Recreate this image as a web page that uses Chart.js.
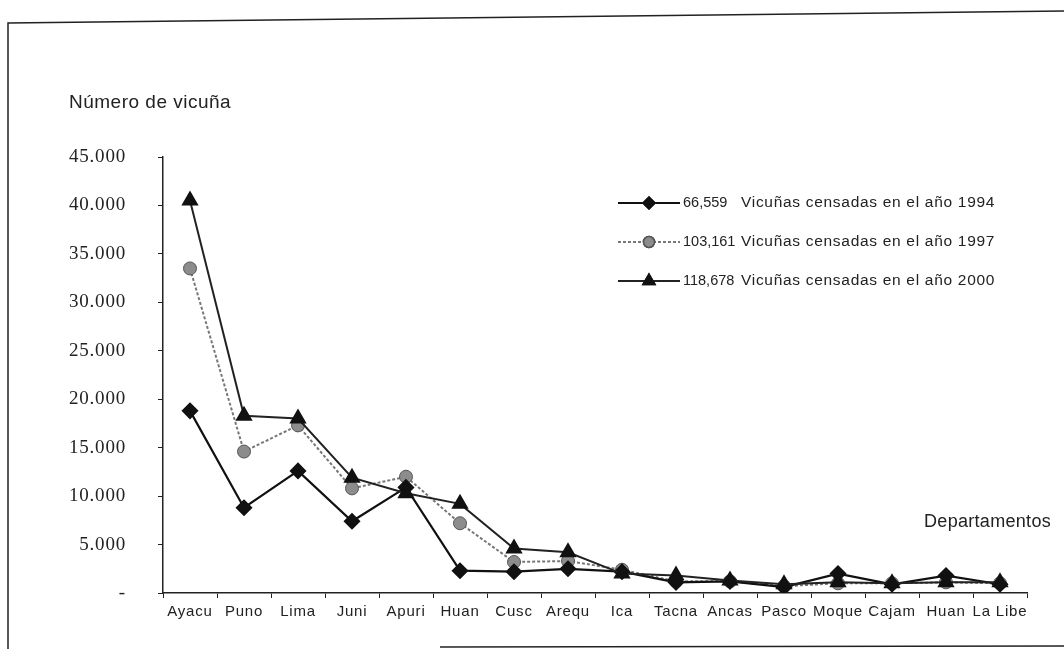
<!DOCTYPE html>
<html>
<head>
<meta charset="utf-8">
<title>Número de vicuña</title>
<script src="https://cdn.jsdelivr.net/npm/chart.js@4/dist/chart.umd.min.js"></script>
<style>
  html, body { margin: 0; padding: 0; background: #fff; }
  #wrap { width: 1064px; height: 649px; position: relative; }
</style>
</head>
<body>
<div id="wrap"><canvas id="vicunaChart" width="1064" height="649"></canvas></div>
<script>
// departamentos (abreviados como en el original)
const departamentos = ["Ayacu", "Puno", "Lima", "Juni", "Apuri", "Huan", "Cusc", "Arequ",
  "Ica", "Tacna", "Ancas", "Pasco", "Moque", "Cajam", "Huan", "La Libe"];

// valores
const censo1994 = [18800, 8800, 12600, 7400, 10900, 2300, 2200, 2500, 2200, 1100, 1200, 600, 2000, 900, 1800, 900];
const censo1997 = [33500, 14600, 17300, 10800, 12000, 7200, 3200, 3300, 2400, 1200, 1200, 700, 1000, 1000, 1100, 1000];
const censo2000 = [40500, 18300, 18000, 11900, 10300, 9200, 4600, 4200, 2000, 1800, 1300, 900, 1100, 1000, 1100, 1100];

const totales = ["66,559", "103,161", "118,678"];
const leyendas = ["Vicuñas censadas en el año 1994", "Vicuñas censadas en el año 1997", "Vicuñas censadas en el año 2000"];

const yTicks = [0, 5000, 10000, 15000, 20000, 25000, 30000, 35000, 40000, 45000];

function formatMiles(v) {
  if (v === 0) return "-";
  return String(v).replace(/\B(?=(\d{3})+(?!\d))/g, ".");
}

// el texto del escaneo es algo más ancho que la fuente normal
const spacingPlugin = {
  id: "spacing",
  beforeLayout(chart) { chart.ctx.letterSpacing = "0.8px"; },
  beforeDraw(chart) { chart.ctx.letterSpacing = "0.8px"; }
};

// textos, leyenda y marco del escaneo
const extrasPlugin = {
  id: "extras",
  afterDraw(chart) {
    const ctx = chart.ctx;
    ctx.save();

    // marco
    ctx.strokeStyle = "#222";
    ctx.lineWidth = 1.5;
    ctx.letterSpacing = "0px";
    ctx.beginPath();
    ctx.moveTo(8, 649);
    ctx.lineTo(8, 23);
    ctx.lineTo(1064, 11);
    ctx.stroke();
    ctx.beginPath();
    ctx.moveTo(440, 647);
    ctx.lineTo(1064, 646);
    ctx.stroke();

    ctx.fillStyle = "#222";
    ctx.textBaseline = "middle";
    ctx.textAlign = "left";
    ctx.letterSpacing = "0.5px";
    ctx.font = "19px 'Liberation Sans', Arial, sans-serif";
    ctx.fillText("Número de vicuña", 69, 103);
    ctx.textAlign = "right";
    ctx.letterSpacing = "0.3px";
    ctx.font = "18px 'Liberation Sans', Arial, sans-serif";
    ctx.fillText("Departamentos", 1051, 522);

    // leyenda
    const rows = [203, 242, 281];
    chart.data.datasets.forEach((ds, i) => {
      const y = rows[i];
      ctx.save();
      ctx.strokeStyle = ds.borderColor;
      ctx.lineWidth = ds.borderWidth;
      ctx.setLineDash(ds.borderDash || []);
      ctx.beginPath();
      ctx.moveTo(618, y);
      ctx.lineTo(680, y);
      ctx.stroke();
      ctx.restore();
      Chart.helpers.drawPoint(ctx, {
        pointStyle: ds.pointStyle,
        radius: ds.pointRadius - 1,
        rotation: 0,
        borderWidth: 1
      }, 649, y);
      ctx.save();
      ctx.fillStyle = ds.pointBackgroundColor;
      ctx.strokeStyle = ds.pointBorderColor;
      ctx.fill();
      ctx.stroke();
      ctx.restore();
      ctx.fillStyle = "#222";
      ctx.textAlign = "left";
      ctx.letterSpacing = "0px";
      ctx.font = "14.5px 'Liberation Sans', Arial, sans-serif";
      ctx.fillText(totales[i], 683, y);
      ctx.letterSpacing = "0.7px";
      ctx.font = "15.5px 'Liberation Sans', Arial, sans-serif";
      ctx.fillText(leyendas[i], 741, y);
    });

    ctx.restore();
  }
};

const ctx = document.getElementById("vicunaChart").getContext("2d");

const vicunaChart = new Chart(ctx, {
  type: "line",
  data: {
    labels: departamentos,
    datasets: [
      {
        label: leyendas[0],
        data: censo1994,
        borderColor: "#111",
        borderWidth: 2.2,
        pointStyle: "rectRot",
        pointRadius: 7,
        pointBackgroundColor: "#111",
        pointBorderColor: "#111",
        order: 1
      },
      {
        label: leyendas[1],
        data: censo1997,
        borderColor: "#777",
        borderWidth: 2,
        borderDash: [3, 2],
        pointStyle: "circle",
        pointRadius: 6.5,
        pointBackgroundColor: "#8c8c8c",
        pointBorderColor: "#555",
        pointBorderWidth: 1,
        order: 2
      },
      {
        label: leyendas[2],
        data: censo2000,
        borderColor: "#222",
        borderWidth: 2,
        pointStyle: "triangle",
        pointRadius: 8,
        pointBackgroundColor: "#111",
        pointBorderColor: "#111",
        order: 0
      }
    ]
  },
  options: {
    responsive: false,
    animation: false,
    devicePixelRatio: 1,
    layout: { padding: { top: 157, left: 0, right: 37, bottom: 0 } },
    plugins: {
      legend: { display: false },
      tooltip: { enabled: false },
      title: { display: false }
    },
    elements: { line: { tension: 0 } },
    scales: {
      x: {
        type: "category",
        offset: true,
        border: { display: true, color: "#222", width: 1.5 },
        grid: {
          offset: true,
          drawOnChartArea: false,
          drawTicks: true,
          tickLength: 5,
          color: "#222"
        },
        ticks: {
          color: "#222",
          padding: 5,
          maxRotation: 0,
          autoSkip: false,
          font: { family: "'Liberation Sans', Arial, sans-serif", size: 15 }
        },
        afterFit(scale) { scale.height = 56; }
      },
      y: {
        min: 0,
        max: 45000,
        afterBuildTicks(scale) { scale.ticks = yTicks.map(v => ({ value: v })); },
        border: { display: true, color: "#222", width: 1.5 },
        grid: {
          drawOnChartArea: false,
          drawTicks: true,
          tickLength: 5,
          color: "#222"
        },
        ticks: {
          color: "#222",
          padding: 32,
          callback: (v) => formatMiles(v),
          font: { family: "'Liberation Serif', 'Times New Roman', serif", size: 19 }
        },
        afterFit(scale) { scale.width = 163; }
      }
    }
  },
  plugins: [spacingPlugin, extrasPlugin]
});
</script>
</body>
</html>
